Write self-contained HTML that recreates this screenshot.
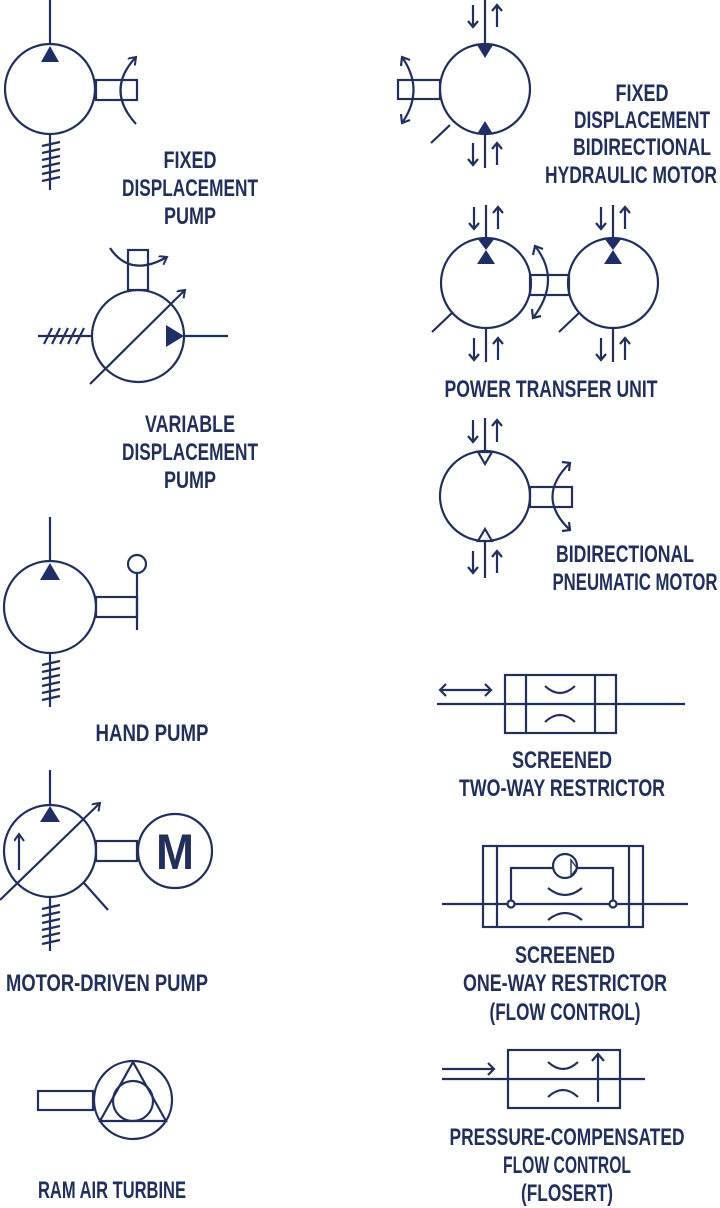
<!DOCTYPE html>
<html><head><meta charset="utf-8"><style>
html,body{margin:0;padding:0;background:#fff;}
svg{display:block;}
text{font-family:"Liberation Sans Narrow","Liberation Sans",sans-serif;font-weight:bold;font-size:24px;fill:#222f5b;text-anchor:middle;}
.s{fill:none;stroke:#222f5b;stroke-width:2.2;}
.f{fill:#1f2f66;stroke:none;}
</style></head><body>
<svg width="720" height="1208" viewBox="0 0 720 1208" xmlns="http://www.w3.org/2000/svg">
<defs>
<marker id="ah" markerWidth="12" markerHeight="12" refX="8" refY="5" orient="auto" markerUnits="userSpaceOnUse"><path d="M1,0 L8,5 L1,10" fill="none" stroke="#222f5b" stroke-width="2"/></marker>
<g id="ud" class="s">
<line x1="-12" y1="0" x2="-12" y2="22"/><polyline points="-17,16 -12,22 -7,16"/>
<line x1="12" y1="22" x2="12" y2="0"/><polyline points="7,6 12,0 17,6"/>
</g>
</defs>

<!-- FIXED DISPLACEMENT PUMP -->
<g class="s">
<circle cx="50" cy="89" r="45"/>
<line x1="50" y1="0" x2="50" y2="44"/>
<rect x="96" y="80" width="41" height="20"/>
<path d="M136,124 Q105,90 136,57" marker-end="url(#ah)"/>
<line x1="50" y1="134" x2="50" y2="190"/>
<line x1="42" y1="146" x2="60" y2="142"/><line x1="42" y1="153" x2="60" y2="149"/><line x1="42" y1="160" x2="60" y2="156"/><line x1="42" y1="167" x2="60" y2="163"/><line x1="42" y1="174" x2="60" y2="170"/><line x1="42" y1="181" x2="60" y2="177"/>
</g>
<polygon class="f" points="41,62 59,62 50,46"/>
<text x="190" y="168" textLength="53" lengthAdjust="spacingAndGlyphs">FIXED</text>
<text x="190" y="196" textLength="136" lengthAdjust="spacingAndGlyphs">DISPLACEMENT</text>
<text x="190" y="224" textLength="52" lengthAdjust="spacingAndGlyphs">PUMP</text>

<!-- VARIABLE DISPLACEMENT PUMP -->
<g class="s">
<circle cx="138" cy="336" r="46"/>
<rect x="128" y="250" width="20" height="40"/>
<path d="M110,248 Q130,278 167,257" marker-end="url(#ah)"/>
<line x1="38" y1="336" x2="92" y2="336"/>
<line x1="44" y1="344" x2="52" y2="328"/><line x1="52" y1="344" x2="60" y2="328"/><line x1="60" y1="344" x2="68" y2="328"/><line x1="68" y1="344" x2="76" y2="328"/><line x1="76" y1="344" x2="84" y2="328"/>
<line x1="184" y1="336" x2="228" y2="336"/>
<line x1="90" y1="384" x2="185" y2="290" marker-end="url(#ah)"/>
</g>
<polygon class="f" points="166,325 166,347 184,336"/>
<text x="190" y="432" textLength="90" lengthAdjust="spacingAndGlyphs">VARIABLE</text>
<text x="190" y="460" textLength="136" lengthAdjust="spacingAndGlyphs">DISPLACEMENT</text>
<text x="190" y="488" textLength="52" lengthAdjust="spacingAndGlyphs">PUMP</text>

<!-- HAND PUMP -->
<g class="s">
<circle cx="50" cy="607" r="46"/>
<line x1="50" y1="517" x2="50" y2="562"/>
<rect x="96" y="597" width="41" height="20"/>
<line x1="137" y1="573" x2="137" y2="630"/>
<circle cx="137" cy="564" r="9"/>
<line x1="50" y1="653" x2="50" y2="707"/>
<line x1="42" y1="665" x2="60" y2="661"/><line x1="42" y1="672" x2="60" y2="668"/><line x1="42" y1="679" x2="60" y2="675"/><line x1="42" y1="686" x2="60" y2="682"/><line x1="42" y1="693" x2="60" y2="689"/><line x1="42" y1="700" x2="60" y2="696"/>
</g>
<polygon class="f" points="40,580 60,580 50,563"/>
<text x="152" y="741" textLength="113" lengthAdjust="spacingAndGlyphs">HAND PUMP</text>

<!-- MOTOR-DRIVEN PUMP -->
<g class="s">
<circle cx="50" cy="851" r="46"/>
<line x1="50" y1="770" x2="50" y2="806"/>
<line x1="0" y1="900" x2="100" y2="803" marker-end="url(#ah)"/>
<line x1="19" y1="870" x2="19" y2="834" marker-end="url(#ah)"/>
<rect x="96" y="841" width="41" height="20"/>
<circle cx="175" cy="851" r="37"/>
<line x1="84" y1="883" x2="108" y2="910"/>
<line x1="50" y1="897" x2="50" y2="951"/>
<line x1="42" y1="909" x2="60" y2="905"/><line x1="42" y1="916" x2="60" y2="912"/><line x1="42" y1="923" x2="60" y2="919"/><line x1="42" y1="930" x2="60" y2="926"/><line x1="42" y1="937" x2="60" y2="933"/><line x1="42" y1="944" x2="60" y2="940"/>
</g>
<polygon class="f" points="40,822 60,822 50,806"/>
<text x="175" y="869" style="font-size:50px;font-family:'Liberation Sans',sans-serif" textLength="38" lengthAdjust="spacingAndGlyphs">M</text>
<text x="107" y="991" textLength="202" lengthAdjust="spacingAndGlyphs">MOTOR-DRIVEN PUMP</text>

<!-- RAM AIR TURBINE -->
<g class="s">
<circle cx="133" cy="1100" r="39"/>
<polygon points="133,1062 100,1121 166,1121"/>
<circle cx="133" cy="1101" r="20"/>
<rect x="38" y="1091" width="55" height="19"/>
</g>
<text x="112" y="1198" textLength="148" lengthAdjust="spacingAndGlyphs">RAM AIR TURBINE</text>

<!-- FIXED DISPLACEMENT BIDIRECTIONAL HYDRAULIC MOTOR -->
<g class="s">
<circle cx="485" cy="89" r="45"/>
<line x1="485" y1="0" x2="485" y2="46"/>
<line x1="485" y1="133" x2="485" y2="168"/>
<rect x="398" y="80" width="42" height="19"/>
<path d="M402,57 Q425,90 402,123"/>
<polyline points="401,66 402,57 410,60"/>
<polyline points="401,114 402,123 410,120"/>
<line x1="450" y1="125" x2="431" y2="143"/>
</g>
<polygon class="f" points="477,45 493,45 485,58"/>
<polygon class="f" points="477,134 493,134 485,121"/>
<use href="#ud" x="485" y="5"/>
<use href="#ud" x="485" y="143"/>
<text x="642" y="101" textLength="53" lengthAdjust="spacingAndGlyphs">FIXED</text>
<text x="642" y="128" textLength="136" lengthAdjust="spacingAndGlyphs">DISPLACEMENT</text>
<text x="642" y="155" textLength="138" lengthAdjust="spacingAndGlyphs">BIDIRECTIONAL</text>
<text x="631" y="183" textLength="172" lengthAdjust="spacingAndGlyphs">HYDRAULIC MOTOR</text>

<!-- POWER TRANSFER UNIT -->
<g class="s">
<circle cx="486" cy="283" r="45"/>
<circle cx="613" cy="283" r="45"/>
<line x1="486" y1="205" x2="486" y2="240"/>
<line x1="613" y1="205" x2="613" y2="240"/>
<line x1="486" y1="328" x2="486" y2="362"/>
<line x1="613" y1="328" x2="613" y2="362"/>
<rect x="530" y="275" width="39" height="20"/>
<path d="M535,246 Q562,280 533,318"/>
<line x1="452" y1="313" x2="432" y2="332"/>
<line x1="579" y1="313" x2="559" y2="332"/>
</g>
<polyline class="s" points="533,255 535,246 543,249"/>
<polyline class="s" points="532,309 533,318 541,316"/>
<polygon class="f" points="477,238 495,238 486,250 495,264 477,264 486,250"/>
<polygon class="f" points="604,238 622,238 613,250 622,264 604,264 613,250"/>
<use href="#ud" x="486" y="207"/>
<use href="#ud" x="613" y="207"/>
<use href="#ud" x="486" y="338"/>
<use href="#ud" x="613" y="338"/>
<text x="551" y="397" textLength="213" lengthAdjust="spacingAndGlyphs">POWER TRANSFER UNIT</text>

<!-- BIDIRECTIONAL PNEUMATIC MOTOR -->
<g class="s">
<circle cx="485" cy="496" r="45"/>
<line x1="485" y1="418" x2="485" y2="452"/>
<line x1="485" y1="540" x2="485" y2="578"/>
<rect x="530" y="487" width="42" height="20"/>
<path d="M570,463 Q535,497 570,530"/>
<polygon points="478,452 492,452 485,464" style="fill:#fff"/>
<polygon points="478,541 492,541 485,529" style="fill:#fff"/>
</g>
<polyline class="s" points="562,462 570,463 569,471"/>
<polyline class="s" points="569,522 570,530 562,531"/>
<use href="#ud" x="485" y="420"/>
<use href="#ud" x="485" y="551"/>
<text x="625" y="562" textLength="138" lengthAdjust="spacingAndGlyphs">BIDIRECTIONAL</text>
<text x="635" y="590" textLength="165" lengthAdjust="spacingAndGlyphs">PNEUMATIC MOTOR</text>

<!-- SCREENED TWO-WAY RESTRICTOR -->
<g class="s">
<line x1="437" y1="704" x2="685" y2="704"/>
<rect x="505" y="675" width="111" height="58"/>
<line x1="526" y1="675" x2="526" y2="733"/>
<line x1="595" y1="675" x2="595" y2="733"/>
<path d="M545,686 Q560,700 575,686"/>
<path d="M545,722 Q560,708 575,722"/>
<line x1="440" y1="690" x2="491" y2="690"/>
<polyline points="446,684 440,690 446,696"/>
<polyline points="485,684 491,690 485,696"/>
</g>
<text x="562" y="768" textLength="100" lengthAdjust="spacingAndGlyphs">SCREENED</text>
<text x="562" y="796" textLength="206" lengthAdjust="spacingAndGlyphs">TWO-WAY RESTRICTOR</text>

<!-- SCREENED ONE-WAY RESTRICTOR -->
<g class="s">
<line x1="442" y1="904" x2="688" y2="904"/>
<rect x="483" y="846" width="160" height="81"/>
<line x1="497" y1="846" x2="497" y2="927"/>
<line x1="629" y1="846" x2="629" y2="927"/>
<circle cx="565" cy="866" r="12"/>
<polyline points="511,904 511,868 553,868"/>
<polyline points="577,868 613,868 613,904"/>
<path d="M548,888 Q565,902 582,888"/>
<path d="M548,920 Q565,906 582,920"/>
<circle cx="511" cy="904" r="3.5" style="fill:#fff"/>
<circle cx="613" cy="904" r="3.5" style="fill:#fff"/>
</g>
<polygon class="s" points="577,868 571,860 571,876" style="stroke-width:1.4"/>
<text x="565" y="963" textLength="100" lengthAdjust="spacingAndGlyphs">SCREENED</text>
<text x="565" y="991" textLength="204" lengthAdjust="spacingAndGlyphs">ONE-WAY RESTRICTOR</text>
<text x="565" y="1020" textLength="151" lengthAdjust="spacingAndGlyphs">(FLOW CONTROL)</text>

<!-- PRESSURE-COMPENSATED FLOW CONTROL -->
<g class="s">
<line x1="442" y1="1079" x2="645" y2="1079"/>
<rect x="508" y="1050" width="112" height="58"/>
<path d="M548,1062 Q563,1076 578,1062"/>
<path d="M548,1097 Q563,1083 578,1097"/>
<line x1="598" y1="1102" x2="598" y2="1054"/>
<polyline points="592,1061 598,1054 604,1061"/>
<line x1="442" y1="1069" x2="494" y2="1069"/>
<polyline points="488,1063 494,1069 488,1075"/>
</g>
<text x="567" y="1145" textLength="235" lengthAdjust="spacingAndGlyphs">PRESSURE-COMPENSATED</text>
<text x="567" y="1173" textLength="128" lengthAdjust="spacingAndGlyphs">FLOW CONTROL</text>
<text x="567" y="1201" textLength="92" lengthAdjust="spacingAndGlyphs">(FLOSERT)</text>
</svg>
</body></html>
